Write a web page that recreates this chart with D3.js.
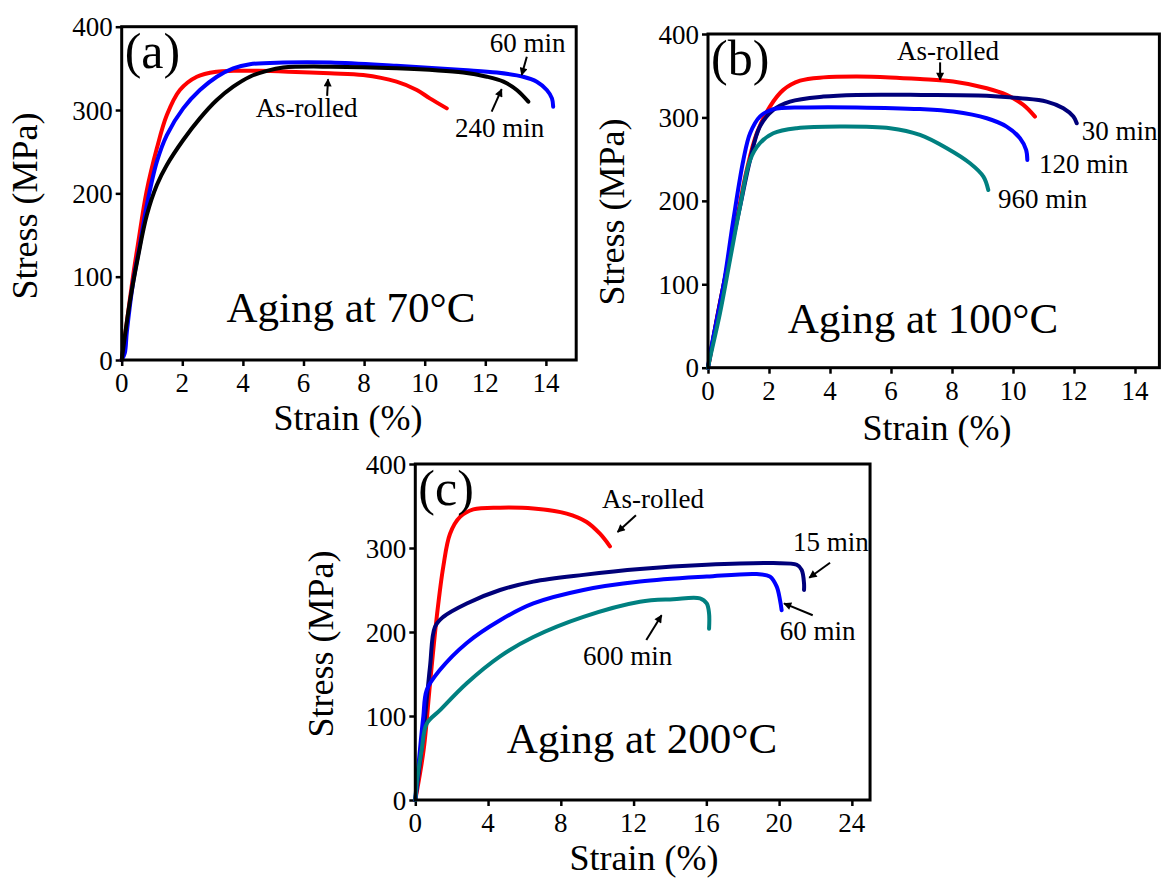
<!DOCTYPE html>
<html><head><meta charset="utf-8"><script src="https://cdn.jsdelivr.net/npm/d3@7"></script></head>
<body style="margin:0">
<svg id="s" width="1161" height="879"></svg>
<script>
// ---------- tick labels ----------
const strainTicksAB = [0, 2, 4, 6, 8, 10, 12, 14];
const strainTicksC = [0, 4, 8, 12, 16, 20, 24];
const stressTicks = [0, 100, 200, 300, 400];

// ---------- Panel (a): Aging at 70°C  [strain %, stress MPa] ----------
const a_asRolled = [[0,0],[0.15,40],[0.38,102],[0.55,142],[0.82,202],[1.16,254],[1.49,294],[1.92,324],[2.48,340],[3.14,346],[3.68,347],[4.5,347],[5.5,346],[6.87,344],[7.97,342],[9.07,334],[9.74,324],[10.17,314],[10.73,302]];
const a_60min = [[0,0],[0.1,8],[0.17,34],[0.38,94],[0.6,138],[0.83,186],[1.16,238],[1.49,270],[2.03,302],[2.58,324],[3.14,340],[3.68,350],[4.23,355],[5.33,357],[6.9,357],[9.07,353],[11.27,348],[12.38,345],[13.25,340],[13.7,334],[14.03,324],[14.2,314],[14.24,304]];
const a_240min = [[0,0],[0.27,70],[0.55,126],[0.83,174],[1.16,210],[1.49,234],[2.03,264],[2.58,290],[3.14,312],[3.68,328],[4.23,340],[4.79,347],[5.33,351],[6.9,352],[9.07,350],[11.27,345],[12.05,340],[12.6,334],[13.04,324],[13.42,310]];

// ---------- Panel (b): Aging at 100°C ----------
const b_asRolled = [[0,0],[0.05,9],[0.28,57],[0.61,117],[0.94,177],[1.27,237],[1.6,281],[2.03,313],[2.47,333],[3.02,344],[3.78,348],[4.88,349],[5.97,348],[6.95,346],[8.04,343],[9.14,335],[9.79,327],[10.34,315],[10.72,301]];
const b_30min = [[0,0],[0.3,60],[0.61,117],[1.05,193],[1.38,249],[1.7,289],[2.14,309],[2.69,319],[3.78,325],[4.88,327],[7.0,327],[9.14,326],[10.23,323],[11.1,319],[11.65,311],[11.98,301],[12.09,293]];
const b_120min = [[0,0],[0.07,17],[0.5,97],[0.83,177],[1.16,249],[1.38,281],[1.7,301],[2.14,310],[3.24,312],[4.88,312],[6.95,310],[8.04,307],[9.14,299],[9.79,289],[10.23,275],[10.43,261],[10.47,249]];
const b_960min = [[0,0],[0.05,9],[0.39,65],[0.72,129],[1.05,193],[1.38,249],[1.7,269],[2.14,281],[2.91,287],[4.33,289],[5.97,287],[6.95,279],[7.83,263],[8.59,245],[9.03,229],[9.19,213]];

// ---------- Panel (c): Aging at 200°C ----------
const c_asRolled = [[0,0],[0.46,60],[0.81,139],[1.18,218],[1.54,278],[1.91,317],[2.46,337],[3.19,346],[4.66,348],[6.49,347],[8.32,341],[9.42,331],[10.15,317],[10.7,302]];
const c_15min = [[0,0],[0.44,79],[0.81,159],[1.08,206],[1.54,218],[2.83,234],[4.66,250],[6.49,260],[9.24,268],[12.35,275],[16.02,280],[19.68,282],[20.97,280],[21.24,274],[21.37,258],[21.37,250]];
const c_60min = [[0,0],[0.3,70],[0.44,99],[0.63,131],[1.36,155],[2.83,187],[4.66,214],[6.49,234],[9.24,250],[12.35,260],[16.02,266],[18.77,269],[19.5,266],[19.87,254],[20.05,238],[20.14,226]];
const c_600min = [[0,0],[0.08,20],[0.35,60],[0.63,91],[1.36,107],[2.83,139],[4.66,171],[6.49,194],[9.24,218],[12.35,236],[14.18,239],[15.65,240],[16.02,234],[16.15,222],[16.15,204]];

// ---------- annotation texts (data coords) ----------
const a_labels = [{t:"60 min", x:12.15, y:370}, {t:"240 min", x:11.0, y:268}, {t:"As-rolled", x:4.42, y:292}];
const a_arrows = [{x1:13.37,y1:364,x2:13.2,y2:342},{x1:12.21,y1:298,x2:12.54,y2:325},{x1:6.78,y1:317,x2:6.81,y2:337}];
const b_labels = [{t:"As-rolled", x:6.2, y:369}, {t:"30 min", x:12.25, y:273}, {t:"120 min", x:10.85, y:233}, {t:"960 min", x:9.51, y:191}];
const b_arrows = [{x1:7.61,y1:366,x2:7.61,y2:345}];
const c_labels = [{t:"As-rolled", x:10.26, y:348}, {t:"15 min", x:20.76, y:296}, {t:"60 min", x:20.03, y:190.5}, {t:"600 min", x:9.22, y:161}];
const c_arrows = [{x1:12.13,y1:339,x2:11.12,y2:319},{x1:22.8,y1:282.5,x2:21.66,y2:264.6},{x1:21.85,y1:220,x2:20.27,y2:234},{x1:12.7,y1:190.5,x2:13.54,y2:220}];

const RED = "#ff0000", BLUE = "#0000ff", BLACK = "#000000", NAVY = "#00007a", TEAL = "#008080";
const FONT = "Liberation Serif";

const panels = [
  { id:"a", left:121.7, top:26.7, bottom:360, width:454.5, xmax:15, xticks:strainTicksAB,
    series:[[a_asRolled,RED],[a_60min,BLUE],[a_240min,BLACK]],
    labels:a_labels, arrows:a_arrows, title:"Aging at 70°C", titleX:351, titleY:322,
    xlab:"Strain (%)", xlabX:348, xlabY:430, ylabX:37, ylabY:206 },
  { id:"b", left:708, top:34, bottom:367.7, width:451.4, xmax:14.8, xticks:strainTicksAB,
    series:[[b_asRolled,RED],[b_30min,NAVY],[b_120min,BLUE],[b_960min,TEAL]],
    labels:b_labels, arrows:b_arrows, title:"Aging at 100°C", titleX:923, titleY:333,
    xlab:"Strain (%)", xlabX:937, xlabY:440, ylabX:624, ylabY:212 },
  { id:"c", left:415.3, top:464, bottom:800, width:454.75, xmax:25, xticks:strainTicksC,
    series:[[c_asRolled,RED],[c_15min,NAVY],[c_60min,BLUE],[c_600min,TEAL]],
    labels:c_labels, arrows:c_arrows, title:"Aging at 200°C", titleX:642, titleY:753,
    xlab:"Strain (%)", xlabX:644, xlabY:870, ylabX:333, ylabY:644 }
];

const svg = d3.select("#s");
svg.append("rect").attr("width",1161).attr("height",879).attr("fill","#fff");

const defs = svg.append("defs");
defs.append("marker").attr("id","ah").attr("viewBox","0 0 10 10")
  .attr("refX",9).attr("refY",5).attr("markerWidth",10).attr("markerHeight",8)
  .attr("markerUnits","userSpaceOnUse").attr("orient","auto")
  .append("path").attr("d","M0,0 L10,5 L0,10 Z").attr("fill","#000");

function addText(xp, yp, size, str, anchor, transform) {
  const t = svg.append("text").attr("font-size", size).attr("font-family", FONT).attr("fill", "#000");
  if (transform) t.attr("transform", transform); else t.attr("x", xp).attr("y", yp);
  if (anchor) t.attr("text-anchor", anchor);
  t.text(str);
  return t;
}

panels.forEach(p => {
  const x = d3.scaleLinear().domain([0, p.xmax]).range([p.left, p.left + p.width]);
  const y = d3.scaleLinear().domain([0, 400]).range([p.bottom, p.top]);

  // axes: tick marks through d3 axis, tick labels drawn as plain texts
  const xAxis = d3.axisBottom(x).tickValues(p.xticks).tickSize(6).tickSizeOuter(0).tickFormat("");
  const yAxis = d3.axisLeft(y).tickValues(stressTicks).tickSize(6).tickSizeOuter(0).tickFormat("");
  const gx = svg.append("g").attr("transform", `translate(0,${p.bottom})`).call(xAxis);
  const gy = svg.append("g").attr("transform", `translate(${p.left},0)`).call(yAxis);
  [gx, gy].forEach(a => {
    a.select(".domain").remove();
    a.selectAll(".tick text").remove();
    a.selectAll(".tick line").attr("stroke","#000").attr("stroke-width",2.5);
  });
  p.xticks.forEach(v => addText(x(v), p.bottom + 32, 27, String(v), "middle"));
  stressTicks.forEach(v => addText(p.left - 9, y(v) + 9.5, 27, String(v), "end"));

  // curves
  const line = d3.line().x(d => x(d[0])).y(d => y(d[1])).curve(d3.curveCatmullRom.alpha(0.5));
  p.series.forEach(([data, color]) => {
    svg.append("path").datum(data).attr("d", line)
      .attr("fill","none").attr("stroke",color).attr("stroke-width",4)
      .attr("stroke-linecap","round").attr("stroke-linejoin","round");
  });

  // frame
  svg.append("rect").attr("x", p.left).attr("y", p.top)
    .attr("width", p.width).attr("height", p.bottom - p.top)
    .attr("fill","none").attr("stroke","#000").attr("stroke-width",3);

  addText(p.left + 3, p.top + 41, 50, `(${p.id})`);
  addText(p.titleX, p.titleY, 43, p.title, "middle");
  p.labels.forEach(l => addText(x(l.x), y(l.y), 27, l.t));
  p.arrows.forEach(a => {
    svg.append("line").attr("x1", x(a.x1)).attr("y1", y(a.y1)).attr("x2", x(a.x2)).attr("y2", y(a.y2))
      .attr("stroke","#000").attr("stroke-width",2).attr("marker-end","url(#ah)");
  });
  addText(p.xlabX, p.xlabY, 36, p.xlab, "middle");
  addText(0, 0, 36, "Stress (MPa)", "middle", `translate(${p.ylabX},${p.ylabY}) rotate(-90)`);
});
</script></body></html>
